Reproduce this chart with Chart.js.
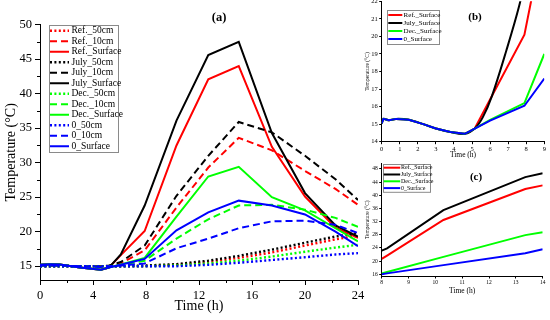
<!DOCTYPE html>
<html>
<head>
<meta charset="utf-8">
<script src="https://cdn.jsdelivr.net/npm/chart.js@4.4.1/dist/chart.umd.min.js"></script>
<style>
  html, body { margin: 0; padding: 0; background: #fff; }
  #wrap { position: relative; width: 550px; height: 320px; overflow: hidden; }
  canvas { position: absolute; }
</style>
</head>
<body>
<div id="wrap">
  <canvas id="chartA" width="372" height="320" style="left:0;top:0"></canvas>
  <canvas id="chartB" width="188" height="160" style="left:362px;top:0"></canvas>
  <canvas id="chartC" width="188" height="160" style="left:362px;top:160px"></canvas>
</div>
<script>
// panel (a): full day, all depths
const hoursA = [0, 0.8, 1.5, 3, 4.6, 5.2, 6.1, 7.9, 10.3, 12.7, 15, 17.5, 20, 22.3, 24];
const ref50   = [15.0, 15.0, 15.0, 15.0, 15.0, 15.0, 15.0, 15.0, 15.2, 15.6, 16.2, 17.0, 18.0, 18.9, 19.4];
const ref10   = [15.1, 15.1, 15.1, 15.0, 14.9, 15.0, 15.4, 17.3, 23.5, 29.3, 33.6, 31.8, 28.8, 26.2, 23.9];
const refSurf = [15.2, 15.3, 15.25, 14.8, 14.5, 14.8, 16.6, 20.1, 32.5, 42.1, 44.0, 32.3, 25.1, 20.6, 19.1];
const jul50   = [15.0, 15.0, 15.0, 15.0, 15.0, 15.0, 15.0, 15.1, 15.3, 15.8, 16.5, 17.4, 18.4, 19.3, 19.8];
const jul10   = [15.1, 15.1, 15.1, 15.0, 15.0, 15.1, 15.6, 18.0, 25.2, 31.0, 35.9, 34.4, 31.0, 27.6, 24.6];
const julSurf = [15.2, 15.3, 15.25, 14.8, 14.5, 14.8, 16.7, 23.8, 36.1, 45.6, 47.5, 34.3, 25.6, 20.9, 19.3];
const dec50   = [15.0, 15.0, 15.0, 15.0, 15.0, 15.0, 15.0, 15.0, 15.1, 15.4, 15.8, 16.4, 17.1, 17.7, 18.1];
const dec10   = [15.1, 15.1, 15.1, 15.0, 14.9, 15.0, 15.2, 15.8, 19.0, 21.8, 23.8, 23.9, 23.2, 22.0, 20.7];
const decSurf = [15.2, 15.3, 15.25, 14.8, 14.5, 14.8, 15.25, 16.2, 22.2, 28.0, 29.4, 25.0, 23.1, 20.5, 18.6];
const zero50  = [15.0, 15.0, 15.0, 15.0, 15.0, 15.0, 15.0, 15.0, 15.0, 15.2, 15.5, 15.9, 16.3, 16.7, 16.9];
const zero10  = [15.1, 15.1, 15.1, 15.0, 14.9, 15.0, 15.1, 15.4, 17.6, 19.0, 20.5, 21.5, 21.6, 21.0, 19.8];
const zeroSurf= [15.2, 15.3, 15.25, 14.8, 14.5, 14.8, 15.2, 16.05, 20.2, 22.8, 24.5, 23.8, 22.5, 20.0, 17.9];
const labelsA = ['Ref._50cm', 'Ref._10cm', 'Ref._Surface', 'July_50cm', 'July_10cm', 'July_Surface',
                 'Dec._50cm', 'Dec._10cm', 'Dec._Surface', '0_50cm', '0_10cm', '0_Surface'];
const ticksAX = [0, 4, 8, 12, 16, 20, 24];
const ticksAY = [15, 20, 25, 30, 35, 40, 45, 50];

// panel (b): surface, early morning zoom
const hoursB    = [0, 0.1, 0.4, 0.8, 1.5, 2.3, 3.0, 3.8, 4.6, 5.15, 6.0, 7.9, 9];
const decSurfB  = [15.05, 15.3, 15.22, 15.3, 15.25, 15.0, 14.75, 14.55, 14.45, 14.75, 15.25, 16.2, 19.0];
const zeroSurfB = [15.05, 15.3, 15.22, 15.3, 15.25, 15.0, 14.75, 14.55, 14.45, 14.75, 15.2, 16.05, 17.6];
const hoursBRef = [0, 0.1, 0.4, 0.8, 1.5, 2.3, 3.0, 3.8, 4.6, 5.15, 6.1, 7.9, 10.3];
const refSurfB  = [15.05, 15.3, 15.22, 15.3, 15.25, 15.0, 14.75, 14.55, 14.45, 14.75, 16.6, 20.1, 32.5];
const hoursBJul = [0, 0.1, 0.4, 0.8, 1.5, 2.3, 3.0, 3.8, 4.6, 5.15, 5.6, 6.1, 6.9, 7.6, 8.0];
const julSurfB  = [15.05, 15.3, 15.22, 15.3, 15.25, 15.0, 14.75, 14.55, 14.45, 14.75, 15.4, 16.6, 19.2, 21.7, 23.6];
const ticksBX = [0, 1, 2, 3, 4, 5, 6, 7, 8, 9];
const ticksBY = [14, 15, 16, 17, 18, 19, 20, 21, 22];

// panel (c): surface, late morning zoom
const hoursC    = [8, 8.2, 10.3, 13.35, 14];
const refSurfC  = [20.7, 21.7, 32.5, 41.9, 43.0];
const julSurfC  = [23.2, 23.9, 35.5, 45.5, 46.7];
const decSurfC  = [16.3, 16.7, 21.3, 27.9, 28.8];
const zeroSurfC = [16.0, 16.3, 18.8, 22.4, 23.6];
const ticksCX = [8, 9, 10, 11, 12, 13, 14];
const ticksCY = [16, 20, 24, 28, 32, 36, 40, 44, 48];
const labelsSurf = ['Ref._Surface', 'July_Surface', 'Dec._Surface', '0_Surface'];

const SERIF = '"Liberation Serif", "DejaVu Serif", serif';
const RED = '#ff0000', BLACK = '#000000', GREEN = '#00ff00', BLUE = '#0000ff';
const DOT = [2, 2.4], DASH = [7, 4], SOLID = [];

const pts = (xs, ys) => xs.map((x, i) => ({ x: x, y: ys[i] }));

function line(label, xs, ys, color, dash, width, idx, tension) {
  return {
    label: label, data: pts(xs, ys), borderColor: color, backgroundColor: color,
    borderDash: dash, borderWidth: width, pointRadius: 0, tension: tension || 0,
    fill: false, order: -idx
  };
}

function axis(o) {
  return {
    type: 'linear', min: o.min, max: o.max,
    border: { display: true, color: '#000', width: 1 },
    grid: { drawOnChartArea: false, drawTicks: true, tickLength: o.tickLen, tickColor: '#000', tickWidth: 1 },
    ticks: { color: '#000', font: { family: SERIF, size: o.fontSize }, padding: o.pad, autoSkip: false, maxRotation: 0 },
    title: { display: true, text: o.title, color: '#000', font: { family: SERIF, size: o.titleSize }, padding: o.titlePad },
    afterBuildTicks: s => { s.ticks = o.ticks.map(v => ({ value: v })); },
    afterFit: s => {
      if (o.width != null) s.width = o.width;
      if (o.height != null) s.height = o.height;
      s.paddingLeft = s.paddingRight = s.paddingTop = s.paddingBottom = 0;
    }
  };
}

// small ticks half way between the labelled ones
const minorTicks = {
  id: 'minorTicks',
  afterDraw(chart, args, o) {
    if (!o.len) return;
    const ctx = chart.ctx;
    ctx.save();
    ctx.strokeStyle = '#000';
    ctx.lineWidth = 1;
    ['x', 'y'].forEach(id => {
      const s = chart.scales[id];
      const vals = s.ticks.map(t => t.value);
      for (let i = 0; i < vals.length - 1; i++) {
        const mid = (vals[i] + vals[i + 1]) / 2;
        const p = Math.round(s.getPixelForValue(mid)) + 0.5;
        ctx.beginPath();
        if (id === 'x') { ctx.moveTo(p, s.top); ctx.lineTo(p, s.top + o.len); }
        else { ctx.moveTo(s.right - o.len, p); ctx.lineTo(s.right, p); }
        ctx.stroke();
      }
    });
    ctx.restore();
  }
};

const boxLegend = {
  id: 'boxLegend',
  afterDatasetsDraw(chart, args, o) {
    const ctx = chart.ctx, area = chart.chartArea;
    const items = chart.data.datasets;
    const x0 = Math.round(area.left + o.dx), y0 = Math.round(area.top + o.dy);
    const h = o.pad * 2 + o.rowH * items.length;
    ctx.save();
    ctx.fillStyle = '#fff';
    ctx.fillRect(x0, y0, o.width, h);
    ctx.strokeStyle = '#8a8a8a';
    ctx.lineWidth = 1;
    ctx.strokeRect(x0 + 0.5, y0 + 0.5, o.width, h);
    ctx.font = o.fontSize + 'px ' + SERIF;
    ctx.textBaseline = 'middle';
    items.forEach((d, i) => {
      const y = y0 + o.pad + o.rowH * (i + 0.5);
      ctx.strokeStyle = d.borderColor;
      ctx.lineWidth = d.borderWidth;
      ctx.setLineDash(d.borderDash || []);
      ctx.beginPath();
      ctx.moveTo(x0 + o.lineX, y);
      ctx.lineTo(x0 + o.lineX + o.lineW, y);
      ctx.stroke();
      ctx.setLineDash([]);
      ctx.fillStyle = '#000';
      ctx.fillText(d.label, x0 + o.textX, y);
    });
    ctx.restore();
  }
};

const panelTag = {
  id: 'panelTag',
  afterDraw(chart, args, o) {
    const ctx = chart.ctx, area = chart.chartArea;
    ctx.save();
    ctx.font = 'bold ' + o.size + 'px ' + SERIF;
    ctx.fillStyle = '#000';
    ctx.textAlign = 'center';
    ctx.textBaseline = 'middle';
    ctx.fillText(o.text, area.left + o.dx, area.top + o.dy);
    ctx.restore();
  }
};

function baseOptions(padding, scales, extra) {
  return {
    responsive: false, animation: false, devicePixelRatio: 1,
    layout: { padding: padding },
    scales: scales,
    plugins: Object.assign({ legend: { display: false }, tooltip: { enabled: false } }, extra)
  };
}

// ---------- (a) ----------
const seriesA = [ref50, ref10, refSurf, jul50, jul10, julSurf, dec50, dec10, decSurf, zero50, zero10, zeroSurf];
const colorsA = [RED, RED, RED, BLACK, BLACK, BLACK, GREEN, GREEN, GREEN, BLUE, BLUE, BLUE];
const dashesA = [DOT, DASH, SOLID, DOT, DASH, SOLID, DOT, DASH, SOLID, DOT, DASH, SOLID];
const dsA = seriesA.map((ys, i) =>
  line(labelsA[i], hoursA, ys, colorsA[i], dashesA[i], dashesA[i] === DOT ? 2.4 : 2, i));

new Chart(document.getElementById('chartA'), {
  type: 'line',
  data: { datasets: dsA },
  options: baseOptions({ left: 0, right: 14, top: 24.7, bottom: 0 }, {
    x: axis({ min: 0, max: 24, ticks: ticksAX, tickLen: 5, fontSize: 12.5, pad: 3, title: 'Time (h)',
              titleSize: 14, titlePad: { top: 0, bottom: 5 }, height: 40 }),
    y: axis({ min: 13, max: 50, ticks: ticksAY, tickLen: 5, fontSize: 12.5, pad: 3, title: 'Temperature (\u00B0C)',
              titleSize: 14, titlePad: { top: 3, bottom: 0 }, width: 40 })
  }, {
    minorTicks: { len: 3 },
    boxLegend: { dx: 9, dy: 0, width: 69, rowH: 10.5, pad: 0.5, lineX: 1, lineW: 19, textX: 22.5, fontSize: 9.5 },
    panelTag: { text: '(a)', size: 12.5, dx: 179, dy: -6.7 }
  }),
  plugins: [minorTicks, boxLegend, panelTag]
});

// ---------- (b) ----------
const dsB = [
  line(labelsSurf[0], hoursBRef, refSurfB, RED, SOLID, 2, 0),
  line(labelsSurf[1], hoursBJul, julSurfB, BLACK, SOLID, 2, 1, 0.35),
  line(labelsSurf[2], hoursB, decSurfB, GREEN, SOLID, 2, 2),
  line(labelsSurf[3], hoursB, zeroSurfB, BLUE, SOLID, 2, 3)
];
new Chart(document.getElementById('chartB'), {
  type: 'line',
  data: { datasets: dsB },
  options: baseOptions({ left: 0, right: 5.7, top: 1.3, bottom: 0 }, {
    x: axis({ min: 0, max: 9, ticks: ticksBX, tickLen: 2.5, fontSize: 6.5, pad: 1, title: 'Time (h)',
              titleSize: 7.5, titlePad: { top: 0, bottom: 0.5 }, height: 18.3 }),
    y: axis({ min: 14, max: 22, ticks: ticksBY, tickLen: 2.5, fontSize: 6.5, pad: 1.5, title: 'Temperature (\u00B0C)',
              titleSize: 5.5, titlePad: { top: 2, bottom: 0 }, width: 19.7 })
  }, {
    boxLegend: { dx: 5, dy: 8.7, width: 52, rowH: 8, pad: 1, lineX: 1.3, lineW: 14, textX: 16.6, fontSize: 7 },
    panelTag: { text: '(b)', size: 11, dx: 93.3, dy: 15.7 }
  }),
  plugins: [boxLegend, panelTag]
});

// ---------- (c) ----------
const seriesC = [refSurfC, julSurfC, decSurfC, zeroSurfC];
const colorsC = [RED, BLACK, GREEN, BLUE];
const dsC = seriesC.map((ys, i) => line(labelsSurf[i], hoursC, ys, colorsC[i], SOLID, 2, i));
new Chart(document.getElementById('chartC'), {
  type: 'line',
  data: { datasets: dsC },
  options: baseOptions({ left: 0, right: 7.3, top: 3.3, bottom: 0 }, {
    x: axis({ min: 8, max: 14, ticks: ticksCX, tickLen: 2.5, fontSize: 5.5, pad: 1, title: 'Time (h)',
              titleSize: 7.5, titlePad: { top: 0, bottom: 24 }, height: 44 }),
    y: axis({ min: 15.5, max: 49.7, ticks: ticksCY, tickLen: 2.5, fontSize: 5.5, pad: 1.5, title: 'Temperature (\u00B0C)',
              titleSize: 5.5, titlePad: { top: 2, bottom: 0 }, width: 19.7 })
  }, {
    boxLegend: { dx: 1, dy: 0.7, width: 47, rowH: 6.8, pad: 0.3, lineX: 0.7, lineW: 16.5, textX: 18, fontSize: 6 },
    panelTag: { text: '(c)', size: 11, dx: 94.3, dy: 14 }
  }),
  plugins: [boxLegend, panelTag]
});
</script>
</body>
</html>
